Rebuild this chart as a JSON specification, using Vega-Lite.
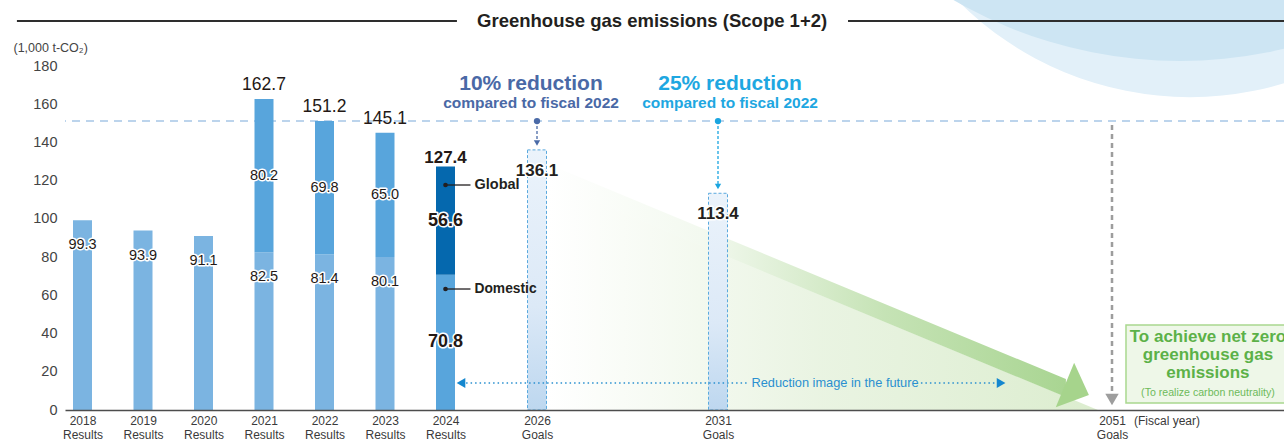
{
  "$schema": "https://vega.github.io/schema/vega-lite/v6.json",
  "width": 1219,
  "height": 344,
  "autosize": {"type": "none"},
  "padding": {"left": 65, "top": 66, "right": 0, "bottom": 36},
  "background": "#ffffff",
  "config": {"view": {"stroke": null}, "font": "Liberation Sans", "axis": {"labelOverlap": false}},
  "resolve": {"axis": {"x": "independent", "y": "independent"}},
  "datasets": {
    "results": [
      {"year": 2018, "part": "Domestic", "value": 99.3},
      {"year": 2019, "part": "Domestic", "value": 93.9},
      {"year": 2020, "part": "Domestic", "value": 91.1},
      {"year": 2021, "part": "Domestic", "value": 82.5},
      {"year": 2021, "part": "Global", "value": 80.2},
      {"year": 2022, "part": "Domestic", "value": 81.4},
      {"year": 2022, "part": "Global", "value": 69.8},
      {"year": 2023, "part": "Domestic", "value": 80.1},
      {"year": 2023, "part": "Global", "value": 65.0},
      {"year": 2024, "part": "Domestic", "value": 70.8},
      {"year": 2024, "part": "Global", "value": 56.6}
    ],
    "totals": [
      {"year": 2021, "total": 162.7},
      {"year": 2022, "total": 151.2},
      {"year": 2023, "total": 145.1},
      {"year": 2024, "total": 127.4}
    ],
    "goals": [
      {"year": 2026, "target": "10% reduction", "value": 136.1},
      {"year": 2031, "target": "25% reduction", "value": 113.4}
    ],
    "baseline": [{"year": 2022, "value": 151.2}],
    "wedge": [
      {"year": 2026.30, "level": 119.3},
      {"year": 2031, "level": 82.3},
      {"year": 2050.29, "level": 0}
    ],
    "band": [
      {"year": 2026.30, "upper": 128.7, "lower": 119.3},
      {"year": 2031, "upper": 91.7, "lower": 82.3},
      {"year": 2048.66, "upper": 16.2, "lower": 6.8}
    ]
  },
  "layer": [
    {
      "data": {"values": [{}]},
      "mark": {"type": "point", "shape": "circle", "filled": true, "color": "#e2f0f9", "opacity": 1, "strokeWidth": 0, "size": 430336},
      "encoding": {"x": {"datum": 2054.96, "type": "quantitative", "axis": null}, "y": {"datum": 335.4, "type": "quantitative", "axis": null}}
    },
    {
      "data": {"values": [{}]},
      "mark": {"type": "point", "shape": "circle", "filled": true, "color": "#cde5f3", "opacity": 1, "strokeWidth": 0, "size": 813604},
      "encoding": {"x": {"datum": 2054.45, "type": "quantitative", "axis": null}, "y": {"datum": 418.6, "type": "quantitative", "axis": null}}
    },
    {
      "data": {"values": [{}]},
      "mark": {"type": "rule", "color": "#2e2e2e", "strokeWidth": 2},
      "encoding": {"x": {"datum": 2016.917, "type": "quantitative", "axis": null}, "x2": {"datum": 2024.25}, "y": {"datum": 203.55, "type": "quantitative", "axis": null}}
    },
    {
      "data": {"values": [{}]},
      "mark": {"type": "rule", "color": "#2e2e2e", "strokeWidth": 2},
      "encoding": {"x": {"datum": 2037.6, "type": "quantitative", "axis": null}, "x2": {"datum": 2059.73}, "y": {"datum": 203.55, "type": "quantitative", "axis": null}}
    },
    {
      "data": {"values": [{"title": "Greenhouse gas emissions (Scope 1+2)"}]},
      "mark": {"type": "text", "fontSize": 18.5, "fontWeight": "bold", "color": "#231f20", "baseline": "middle"},
      "encoding": {"x": {"datum": 2029.18, "type": "quantitative", "axis": null}, "y": {"datum": 203.55, "type": "quantitative", "axis": null}, "text": {"field": "title"}}
    },
    {
      "data": {"name": "wedge"},
      "mark": {"type": "area", "fill": {"gradient": "linear", "x1": 0, "y1": 0, "x2": 1, "y2": 0, "stops": [{"offset": 0, "color": "rgba(226,240,216,0)"}, {"offset": 0.5, "color": "rgba(226,240,216,0.75)"}, {"offset": 1, "color": "#dcedcf"}]}},
      "encoding": {"x": {"field": "year", "type": "quantitative", "axis": null}, "y": {"field": "level", "type": "quantitative", "axis": null}, "y2": {"datum": 0}}
    },
    {
      "data": {"name": "band"},
      "mark": {"type": "area", "fill": {"gradient": "linear", "x1": 0, "y1": 0, "x2": 1, "y2": 0, "stops": [{"offset": 0, "color": "rgba(173,215,150,0)"}, {"offset": 0.3, "color": "rgba(173,215,150,0.15)"}, {"offset": 0.65, "color": "rgba(173,215,150,0.7)"}, {"offset": 1, "color": "#a9d592"}]}},
      "encoding": {"x": {"field": "year", "type": "quantitative", "axis": null}, "y": {"field": "upper", "type": "quantitative", "axis": null}, "y2": {"field": "lower"}}
    },
    {
      "data": {"values": [{}]},
      "mark": {"type": "point", "shape": "M-0.54,-1L0.54,0L-0.54,1Z", "filled": true, "color": "#a6d48c", "opacity": 1, "strokeWidth": 0, "size": 2304, "angle": 22.5},
      "encoding": {"x": {"datum": 2049.22, "type": "quantitative", "axis": null}, "y": {"datum": 10.47, "type": "quantitative", "axis": null}}
    },
    {
      "data": {"name": "baseline"},
      "mark": {"type": "rule", "color": "#a6c6e6", "strokeWidth": 1.5, "strokeDash": [8, 6]},
      "encoding": {"y": {"field": "value", "type": "quantitative", "axis": null}}
    },
    {
      "data": {"values": [{}]},
      "mark": {"type": "rule", "color": "#9d9d9d", "strokeWidth": 2.5, "strokeDash": [5, 4]},
      "encoding": {"x": {"datum": 2051, "type": "quantitative", "axis": null}, "y": {"datum": 149.13, "type": "quantitative", "axis": null}, "y2": {"datum": 7.85}}
    },
    {
      "data": {"values": [{}]},
      "mark": {"type": "point", "shape": "triangle-down", "filled": true, "color": "#9d9d9d", "opacity": 1, "size": 180},
      "encoding": {"x": {"datum": 2051, "type": "quantitative", "axis": null}, "y": {"datum": 5.49, "type": "quantitative", "axis": null}}
    },
    {
      "data": {"name": "results"},
      "transform": [{"stack": "value", "groupby": ["year"], "sort": [{"field": "part", "order": "ascending"}], "as": ["v0", "v1"]}],
      "mark": {"type": "bar", "width": 19},
      "encoding": {
        "x": {
          "field": "year", "type": "quantitative",
          "scale": {"domain": [2017.711, 2018, 2024, 2026, 2031, 2051, 2059.73], "range": [0, 17.5, 380.5, 472, 653, 1047, 1219], "nice": false, "zero": false, "padding": 0},
          "axis": {"values": [2018, 2019, 2020, 2021, 2022, 2023, 2024, 2026, 2031, 2051], "labelExpr": "[toString(datum.value), datum.value <= 2024 ? 'Results' : 'Goals']", "title": null, "ticks": false, "grid": false, "domainColor": "#4d4d4d", "domainWidth": 1.5, "labelFontSize": 12, "labelColor": "#3a3a3a", "labelPadding": 5, "labelLineHeight": 14, "labelOverlap": false, "labelFlush": false, "labelBound": false, "labelBaseline": "top", "zindex": 1}
        },
        "y": {
          "field": "v1", "type": "quantitative",
          "scale": {"domain": [0, 180], "nice": false, "zero": false, "padding": 0},
          "axis": {"values": [0, 20, 40, 60, 80, 100, 120, 140, 160, 180], "title": "(1,000 t-CO₂)", "titleAngle": 0, "titleAlign": "left", "titleBaseline": "middle", "titleX": -52, "titleY": -19, "titleFontSize": 12.5, "titleFontWeight": "normal", "titleColor": "#444444", "domain": false, "ticks": false, "grid": false, "labelFontSize": 14.5, "labelColor": "#444444", "labelPadding": 8, "labelOverlap": false, "labelFlush": false, "labelBound": false, "zindex": 1}
        },
        "y2": {"field": "v0"},
        "color": {"condition": [{"test": "datum.year === 2024 && datum.part === 'Global'", "value": "#0568ae"}, {"test": "datum.year === 2024 || datum.part === 'Global'", "value": "#58a5dc"}], "value": "#7bb4e1"}
      }
    },
    {
      "data": {"name": "goals"},
      "mark": {"type": "bar", "width": 19, "fill": {"gradient": "linear", "x1": 0, "y1": 0, "x2": 0, "y2": 1, "stops": [{"offset": 0, "color": "#ebf3fb"}, {"offset": 0.6, "color": "#dce9f7"}, {"offset": 1, "color": "#bdd7ef"}]}, "stroke": "#5aa9de", "strokeWidth": 1, "strokeDash": [3, 2]},
      "encoding": {"x": {"field": "year", "type": "quantitative", "axis": null}, "y": {"field": "value", "type": "quantitative", "axis": null}}
    },
    {
      "data": {"values": [{}]},
      "mark": {"type": "rule", "color": "#2a90d0", "strokeWidth": 1.5, "strokeDash": [1.5, 3]},
      "encoding": {"x": {"datum": 2024.45, "type": "quantitative", "axis": null}, "x2": {"datum": 2032.57}, "y": {"datum": 14.13, "type": "quantitative", "axis": null}}
    },
    {
      "data": {"values": [{}]},
      "mark": {"type": "rule", "color": "#2a90d0", "strokeWidth": 1.5, "strokeDash": [1.5, 3]},
      "encoding": {"x": {"datum": 2041.3, "type": "quantitative", "axis": null}, "x2": {"datum": 2045.11}, "y": {"datum": 14.13, "type": "quantitative", "axis": null}}
    },
    {
      "data": {"values": [{}]},
      "mark": {"type": "point", "shape": "triangle-left", "filled": true, "color": "#1487cf", "opacity": 1, "size": 100},
      "encoding": {"x": {"datum": 2024.339, "type": "quantitative", "axis": null}, "y": {"datum": 14.13, "type": "quantitative", "axis": null}}
    },
    {
      "data": {"values": [{}]},
      "mark": {"type": "point", "shape": "triangle-right", "filled": true, "color": "#1487cf", "opacity": 1, "size": 100},
      "encoding": {"x": {"datum": 2045.37, "type": "quantitative", "axis": null}, "y": {"datum": 14.13, "type": "quantitative", "axis": null}}
    },
    {
      "data": {"values": [{"note": "Reduction image in the future"}]},
      "mark": {"type": "text", "fontSize": 12.8, "color": "#2a90d0", "baseline": "middle"},
      "encoding": {"x": {"datum": 2036.94, "type": "quantitative", "axis": null}, "y": {"datum": 14.13, "type": "quantitative", "axis": null}, "text": {"field": "note"}}
    },
    {
      "data": {"values": [{}]},
      "mark": {"type": "rule", "color": "#4a6aa7", "strokeWidth": 1.3, "strokeDash": [3, 2]},
      "encoding": {"x": {"datum": 2026, "type": "quantitative", "axis": null}, "y": {"datum": 151.2, "type": "quantitative", "axis": null}, "y2": {"datum": 141.28}}
    },
    {
      "data": {"values": [{}]},
      "mark": {"type": "point", "shape": "circle", "filled": true, "color": "#4a6aa7", "opacity": 1, "size": 40},
      "encoding": {"x": {"datum": 2026, "type": "quantitative", "axis": null}, "y": {"datum": 151.2, "type": "quantitative", "axis": null}}
    },
    {
      "data": {"values": [{}]},
      "mark": {"type": "point", "shape": "triangle-down", "filled": true, "color": "#4a6aa7", "opacity": 1, "size": 40},
      "encoding": {"x": {"datum": 2026, "type": "quantitative", "axis": null}, "y": {"datum": 139.71, "type": "quantitative", "axis": null}}
    },
    {
      "data": {"values": [{}]},
      "mark": {"type": "rule", "color": "#1aa5e0", "strokeWidth": 1.3, "strokeDash": [3, 2]},
      "encoding": {"x": {"datum": 2031, "type": "quantitative", "axis": null}, "y": {"datum": 151.2, "type": "quantitative", "axis": null}, "y2": {"datum": 118.27}}
    },
    {
      "data": {"values": [{}]},
      "mark": {"type": "point", "shape": "circle", "filled": true, "color": "#1aa5e0", "opacity": 1, "size": 40},
      "encoding": {"x": {"datum": 2031, "type": "quantitative", "axis": null}, "y": {"datum": 151.2, "type": "quantitative", "axis": null}}
    },
    {
      "data": {"values": [{}]},
      "mark": {"type": "point", "shape": "triangle-down", "filled": true, "color": "#1aa5e0", "opacity": 1, "size": 40},
      "encoding": {"x": {"datum": 2031, "type": "quantitative", "axis": null}, "y": {"datum": 116.95, "type": "quantitative", "axis": null}}
    },
    {
      "data": {"values": [{"t": "10% reduction"}]},
      "mark": {"type": "text", "fontSize": 21, "fontWeight": "bold", "color": "#4a69a6", "baseline": "middle", "dx": -6},
      "encoding": {"x": {"datum": 2026, "type": "quantitative", "axis": null}, "y": {"datum": 170.58, "type": "quantitative", "axis": null}, "text": {"field": "t"}}
    },
    {
      "data": {"values": [{"t": "compared to fiscal 2022"}]},
      "mark": {"type": "text", "fontSize": 15.5, "fontWeight": "bold", "color": "#4a69a6", "baseline": "middle", "dx": -6},
      "encoding": {"x": {"datum": 2026, "type": "quantitative", "axis": null}, "y": {"datum": 160.8, "type": "quantitative", "axis": null}, "text": {"field": "t"}}
    },
    {
      "data": {"values": [{"t": "25% reduction"}]},
      "mark": {"type": "text", "fontSize": 21, "fontWeight": "bold", "color": "#1ea7e1", "baseline": "middle", "dx": 12},
      "encoding": {"x": {"datum": 2031, "type": "quantitative", "axis": null}, "y": {"datum": 170.58, "type": "quantitative", "axis": null}, "text": {"field": "t"}}
    },
    {
      "data": {"values": [{"t": "compared to fiscal 2022"}]},
      "mark": {"type": "text", "fontSize": 15.5, "fontWeight": "bold", "color": "#1ea7e1", "baseline": "middle", "dx": 12},
      "encoding": {"x": {"datum": 2031, "type": "quantitative", "axis": null}, "y": {"datum": 160.8, "type": "quantitative", "axis": null}, "text": {"field": "t"}}
    },
    {
      "data": {"name": "goals"},
      "mark": {"type": "text", "fontSize": 17, "fontWeight": "bold", "fill": "#ffffff", "stroke": "#ffffff", "strokeWidth": 3, "strokeJoin": "round", "baseline": "middle", "dy": 21},
      "encoding": {"x": {"field": "year", "type": "quantitative", "axis": null}, "y": {"field": "value", "type": "quantitative", "axis": null}, "text": {"field": "value", "format": ".1f"}}
    },
    {
      "data": {"name": "goals"},
      "mark": {"type": "text", "fontSize": 17, "fontWeight": "bold", "color": "#231f20", "baseline": "middle", "dy": 21},
      "encoding": {"x": {"field": "year", "type": "quantitative", "axis": null}, "y": {"field": "value", "type": "quantitative", "axis": null}, "text": {"field": "value", "format": ".1f"}}
    },
    {
      "data": {"name": "results"},
      "transform": [{"filter": "datum.part === 'Domestic' && datum.year < 2024"}],
      "mark": {"type": "text", "fontSize": 14.5, "fill": "#ffffff", "stroke": "#ffffff", "strokeWidth": 3, "strokeJoin": "round", "baseline": "middle", "dy": 25},
      "encoding": {"x": {"field": "year", "type": "quantitative", "axis": null}, "y": {"field": "value", "type": "quantitative", "axis": null}, "text": {"field": "value", "format": ".1f"}}
    },
    {
      "data": {"name": "results"},
      "transform": [{"filter": "datum.part === 'Domestic' && datum.year < 2024"}],
      "mark": {"type": "text", "fontSize": 14.5, "color": "#231815", "baseline": "middle", "dy": 25},
      "encoding": {"x": {"field": "year", "type": "quantitative", "axis": null}, "y": {"field": "value", "type": "quantitative", "axis": null}, "text": {"field": "value", "format": ".1f"}}
    },
    {
      "data": {"name": "results"},
      "transform": [{"filter": "datum.year >= 2021 && datum.year <= 2023"}],
      "mark": {"type": "text", "fontSize": 14.5, "fill": "#ffffff", "stroke": "#ffffff", "strokeWidth": 3, "strokeJoin": "round", "baseline": "middle"},
      "encoding": {
        "x": {"field": "year", "type": "quantitative", "axis": null},
        "y": {"field": "value", "type": "quantitative", "stack": "zero", "bandPosition": 0.5, "axis": null},
        "detail": {"field": "part"},
        "order": {"field": "part", "sort": "ascending"},
        "text": {"condition": {"test": "datum.part === 'Global'", "field": "value", "format": ".1f"}, "value": ""}
      }
    },
    {
      "data": {"name": "results"},
      "transform": [{"filter": "datum.year >= 2021 && datum.year <= 2023"}],
      "mark": {"type": "text", "fontSize": 14.5, "color": "#231815", "baseline": "middle"},
      "encoding": {
        "x": {"field": "year", "type": "quantitative", "axis": null},
        "y": {"field": "value", "type": "quantitative", "stack": "zero", "bandPosition": 0.5, "axis": null},
        "detail": {"field": "part"},
        "order": {"field": "part", "sort": "ascending"},
        "text": {"condition": {"test": "datum.part === 'Global'", "field": "value", "format": ".1f"}, "value": ""}
      }
    },
    {
      "data": {"name": "results"},
      "transform": [{"filter": "datum.year === 2024"}],
      "mark": {"type": "text", "fontSize": 18, "fontWeight": "bold", "fill": "#ffffff", "stroke": "#ffffff", "strokeWidth": 3, "strokeJoin": "round", "baseline": "middle"},
      "encoding": {
        "x": {"field": "year", "type": "quantitative", "axis": null},
        "y": {"field": "value", "type": "quantitative", "stack": "zero", "bandPosition": 0.5, "axis": null},
        "detail": {"field": "part"},
        "order": {"field": "part", "sort": "ascending"},
        "text": {"field": "value", "format": ".1f"}
      }
    },
    {
      "data": {"name": "results"},
      "transform": [{"filter": "datum.year === 2024"}],
      "mark": {"type": "text", "fontSize": 18, "fontWeight": "bold", "color": "#231815", "baseline": "middle"},
      "encoding": {
        "x": {"field": "year", "type": "quantitative", "axis": null},
        "y": {"field": "value", "type": "quantitative", "stack": "zero", "bandPosition": 0.5, "axis": null},
        "detail": {"field": "part"},
        "order": {"field": "part", "sort": "ascending"},
        "text": {"field": "value", "format": ".1f"}
      }
    },
    {
      "data": {"name": "totals"},
      "transform": [{"filter": "datum.year < 2024"}],
      "mark": {"type": "text", "fontSize": 17.5, "color": "#231815", "baseline": "middle", "dy": -14},
      "encoding": {"x": {"field": "year", "type": "quantitative", "axis": null}, "y": {"field": "total", "type": "quantitative", "axis": null}, "text": {"field": "total", "format": ".1f"}}
    },
    {
      "data": {"name": "totals"},
      "transform": [{"filter": "datum.year === 2024"}],
      "mark": {"type": "text", "fontSize": 17, "fontWeight": "bold", "color": "#231815", "baseline": "middle", "dy": -9},
      "encoding": {"x": {"field": "year", "type": "quantitative", "axis": null}, "y": {"field": "total", "type": "quantitative", "axis": null}, "text": {"field": "total", "format": ".1f"}}
    },
    {
      "data": {"values": [{}]},
      "mark": {"type": "rule", "color": "#231f20", "strokeWidth": 1.3},
      "encoding": {"x": {"datum": 2024, "type": "quantitative", "axis": null}, "x2": {"datum": 2024.546}, "y": {"datum": 117.73, "type": "quantitative", "axis": null}}
    },
    {
      "data": {"values": [{}]},
      "mark": {"type": "point", "shape": "circle", "filled": true, "color": "#231f20", "opacity": 1, "size": 22},
      "encoding": {"x": {"datum": 2024, "type": "quantitative", "axis": null}, "y": {"datum": 117.73, "type": "quantitative", "axis": null}}
    },
    {
      "data": {"values": [{"t": "Global"}]},
      "mark": {"type": "text", "fontSize": 14.5, "fontWeight": "bold", "color": "#231f20", "align": "left", "baseline": "middle", "dx": 4},
      "encoding": {"x": {"datum": 2024.546, "type": "quantitative", "axis": null}, "y": {"datum": 117.73, "type": "quantitative", "axis": null}, "text": {"field": "t"}}
    },
    {
      "data": {"values": [{}]},
      "mark": {"type": "rule", "color": "#231f20", "strokeWidth": 1.3},
      "encoding": {"x": {"datum": 2024, "type": "quantitative", "axis": null}, "x2": {"datum": 2024.546}, "y": {"datum": 63.31, "type": "quantitative", "axis": null}}
    },
    {
      "data": {"values": [{}]},
      "mark": {"type": "point", "shape": "circle", "filled": true, "color": "#231f20", "opacity": 1, "size": 22},
      "encoding": {"x": {"datum": 2024, "type": "quantitative", "axis": null}, "y": {"datum": 63.31, "type": "quantitative", "axis": null}}
    },
    {
      "data": {"values": [{"t": "Domestic"}]},
      "mark": {"type": "text", "fontSize": 13.8, "fontWeight": "bold", "color": "#231f20", "align": "left", "baseline": "middle", "dx": 4},
      "encoding": {"x": {"datum": 2024.546, "type": "quantitative", "axis": null}, "y": {"datum": 63.31, "type": "quantitative", "axis": null}, "text": {"field": "t"}}
    },
    {
      "data": {"values": [{"t": "(Fiscal year)"}]},
      "mark": {"type": "text", "fontSize": 12, "color": "#3a3a3a", "align": "left", "baseline": "middle", "dx": 22, "dy": 11},
      "encoding": {"x": {"datum": 2051, "type": "quantitative", "axis": null}, "y": {"datum": 0, "type": "quantitative", "axis": null}, "text": {"field": "t"}}
    },
    {
      "data": {"values": [{}]},
      "mark": {"type": "rect", "fill": "#eef7e8", "stroke": "#a9d88f", "strokeWidth": 1.5},
      "encoding": {"x": {"datum": 2051.71, "type": "quantitative", "axis": null}, "x2": {"datum": 2060.04}, "y": {"datum": 44.48, "type": "quantitative", "axis": null}, "y2": {"datum": 3.66}}
    },
    {
      "data": {"values": [{"t": ["To achieve net zero", "greenhouse gas", "emissions"]}]},
      "mark": {"type": "text", "fontSize": 17, "fontWeight": "bold", "color": "#5cb148", "baseline": "middle", "lineHeight": 18},
      "encoding": {"x": {"datum": 2055.87, "type": "quantitative", "axis": null}, "y": {"datum": 38.2, "type": "quantitative", "axis": null}, "text": {"field": "t"}}
    },
    {
      "data": {"values": [{"t": "(To realize carbon neutrality)"}]},
      "mark": {"type": "text", "fontSize": 10.6, "color": "#6dba5a", "baseline": "middle"},
      "encoding": {"x": {"datum": 2055.87, "type": "quantitative", "axis": null}, "y": {"datum": 8.9, "type": "quantitative", "axis": null}, "text": {"field": "t"}}
    }
  ]
}
